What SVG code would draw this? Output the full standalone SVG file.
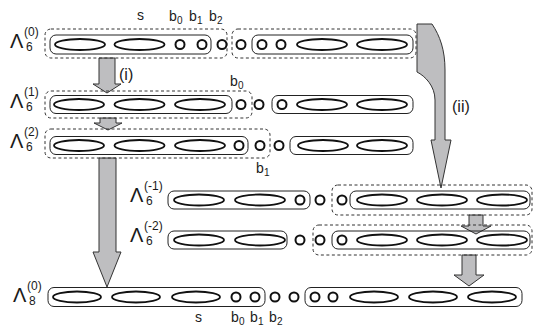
<svg xmlns="http://www.w3.org/2000/svg" xmlns:xlink="http://www.w3.org/1999/xlink" width="534" height="328" viewBox="0 0 534 328">
<style>
.r{fill:none;stroke:#222;stroke-width:1}
.d{fill:none;stroke:#333;stroke-width:1;stroke-dasharray:3 2.5}
.e{fill:none;stroke:#111;stroke-width:1.8}
.c{fill:none;stroke:#111;stroke-width:2}
.a{fill:#bebec0;stroke:#333;stroke-width:1}
text{font-family:"Liberation Sans",Arial,sans-serif;fill:#1a1a1a}
.L{font-size:20px}
.s{font-size:12px}
.t{font-size:14px}
.p{font-size:16px}
.u{font-size:10px}
</style>
<defs>
<ellipse id="E" cx="0" cy="0" rx="25" ry="5.5" class="e"/>
<ellipse id="F" cx="0" cy="0" rx="24" ry="5.5" class="e"/>
<circle id="C" cx="0" cy="0" r="4.5" class="c"/>
</defs>

<g id="connectors">
<path class="a" d="M99 58 L115 58 L115 84 L121 84 L107 93 L93 84 L99 84 Z"/>
<path class="a" d="M100 118 L116 118 L116 123 L122 123 L108 130 L94 123 L100 123 Z"/>
<path class="a" d="M99 158 L116 158 L116 252 L121 252 L107 287 L93 252 L99 252 Z"/>
<path class="a" d="M417 24 L432 24 C440 36 445 50 445 70 L445 140 L451 140 L441 188 L431 140 L435 140 L435 100 C435 86 425 76 417 72 Z"/>
<path class="a" d="M469 215 L483 215 L483 226 L491 226 L476 234 L461 226 L469 226 Z"/>
<path class="a" d="M462 255 L476 255 L476 275 L484 275 L469 286 L454 275 L462 275 Z"/>
<text x="119" y="80" class="p">(i)</text>
<text x="452" y="112" class="p">(ii)</text>
</g>

<g id="row-L6-0">
<text x="10" y="48" class="L">Λ</text><text x="24" y="36" class="s">(0)</text><text x="26" y="51" class="s">6</text>
<text x="137" y="20" class="t">s</text>
<text x="169" y="21" class="t">b</text><text x="177" y="24" class="u">0</text>
<text x="189" y="21" class="t">b</text><text x="197" y="24" class="u">1</text>
<text x="209" y="21" class="t">b</text><text x="217" y="24" class="u">2</text>
<rect class="d" x="45" y="29" width="182" height="29" rx="6"/>
<rect class="d" x="232" y="29" width="184" height="29" rx="6"/>
<rect class="r" x="50" y="35" width="161" height="19" rx="6"/>
<use xlink:href="#E" x="80" y="44.5"/><use xlink:href="#E" x="139.5" y="44.5"/>
<use xlink:href="#C" x="180" y="44.5"/><use xlink:href="#C" x="202" y="44.5"/><use xlink:href="#C" x="222" y="44.5"/><use xlink:href="#C" x="241" y="44.5"/>
<rect class="r" x="252" y="35" width="161" height="19" rx="6"/>
<use xlink:href="#C" x="262" y="44.5"/><use xlink:href="#C" x="281" y="44.5"/>
<use xlink:href="#E" x="322" y="44.5"/><use xlink:href="#E" x="382" y="44.5"/>
</g>

<g id="row-L6-1">
<text x="10" y="108" class="L">Λ</text><text x="24" y="96" class="s">(1)</text><text x="26" y="111" class="s">6</text>
<text x="230" y="86" class="t">b</text><text x="238" y="89" class="u">0</text>
<rect class="d" x="45" y="91" width="207" height="27" rx="6"/>
<rect class="r" x="50" y="95.5" width="182" height="18" rx="6"/>
<use xlink:href="#E" x="79" y="104.5"/><use xlink:href="#E" x="139.5" y="104.5"/><use xlink:href="#E" x="200" y="104.5"/>
<use xlink:href="#C" x="241" y="104.5"/><use xlink:href="#C" x="259" y="104.5"/><use xlink:href="#C" x="282" y="104.5"/>
<rect class="r" x="272" y="95.5" width="141" height="18" rx="6"/>
<use xlink:href="#E" x="322" y="104.5"/><use xlink:href="#E" x="382" y="104.5"/>
</g>

<g id="row-L6-2">
<text x="10" y="148" class="L">Λ</text><text x="24" y="136" class="s">(2)</text><text x="26" y="151" class="s">6</text>
<text x="256" y="173" class="t">b</text><text x="264" y="176" class="u">1</text>
<rect class="d" x="45" y="129" width="225" height="29" rx="6"/>
<rect class="r" x="50" y="136.5" width="198" height="18" rx="6"/>
<use xlink:href="#E" x="79" y="145.5"/><use xlink:href="#E" x="139.5" y="145.5"/><use xlink:href="#E" x="200" y="145.5"/>
<use xlink:href="#C" x="239" y="145.5"/><use xlink:href="#C" x="260" y="145.5"/><use xlink:href="#C" x="279" y="145.5"/>
<rect class="r" x="290" y="136.5" width="123" height="18" rx="6"/>
<use xlink:href="#E" x="323" y="145.5"/><use xlink:href="#E" x="382" y="145.5"/>
</g>

<g id="row-L6-m1">
<text x="130" y="202" class="L">Λ</text><text x="144" y="190" class="s">(-1)</text><text x="146" y="205" class="s">6</text>
<rect class="r" x="168" y="191" width="142" height="18" rx="6"/>
<use xlink:href="#E" x="199" y="200"/><use xlink:href="#E" x="260" y="200"/>
<use xlink:href="#C" x="300" y="200"/><use xlink:href="#C" x="320" y="200"/><use xlink:href="#C" x="342" y="200"/>
<rect class="d" x="332" y="185" width="200" height="30" rx="6"/>
<rect class="r" x="350" y="191" width="180" height="18" rx="6"/>
<use xlink:href="#E" x="382" y="200"/><use xlink:href="#E" x="442" y="200"/><use xlink:href="#E" x="502" y="200"/>
</g>

<g id="row-L6-m2">
<text x="130" y="242" class="L">Λ</text><text x="144" y="230" class="s">(-2)</text><text x="146" y="245" class="s">6</text>
<rect class="r" x="168" y="231" width="119" height="18" rx="6"/>
<use xlink:href="#E" x="199" y="240"/><use xlink:href="#E" x="260" y="240"/>
<use xlink:href="#C" x="300" y="240"/><use xlink:href="#C" x="320" y="240"/><use xlink:href="#C" x="342" y="240"/>
<rect class="d" x="313" y="225" width="219" height="30" rx="6"/>
<rect class="r" x="332" y="231" width="198" height="18" rx="6"/>
<use xlink:href="#E" x="382" y="240"/><use xlink:href="#E" x="442" y="240"/><use xlink:href="#E" x="502" y="240"/>
</g>

<g id="row-L8-0">
<text x="13" y="302" class="L">Λ</text><text x="27" y="290" class="s">(0)</text><text x="29" y="305" class="s">8</text>
<rect class="r" x="48" y="287.5" width="217" height="19" rx="6"/>
<use xlink:href="#F" x="77" y="297"/><use xlink:href="#F" x="136" y="297"/><use xlink:href="#F" x="196" y="297"/>
<use xlink:href="#C" x="236" y="297"/><use xlink:href="#C" x="255" y="297"/><use xlink:href="#C" x="275" y="297"/><use xlink:href="#C" x="294" y="297"/>
<rect class="r" x="305" y="287.5" width="217" height="19" rx="6"/>
<use xlink:href="#C" x="315" y="297"/><use xlink:href="#C" x="333" y="297"/>
<use xlink:href="#F" x="374" y="297"/><use xlink:href="#F" x="433" y="297"/><use xlink:href="#F" x="492" y="297"/>
<text x="195" y="322" class="t">s</text>
<text x="231" y="322" class="t">b</text><text x="239" y="325" class="u">0</text>
<text x="250" y="322" class="t">b</text><text x="258" y="325" class="u">1</text>
<text x="269" y="322" class="t">b</text><text x="277" y="325" class="u">2</text>
</g>
</svg>
